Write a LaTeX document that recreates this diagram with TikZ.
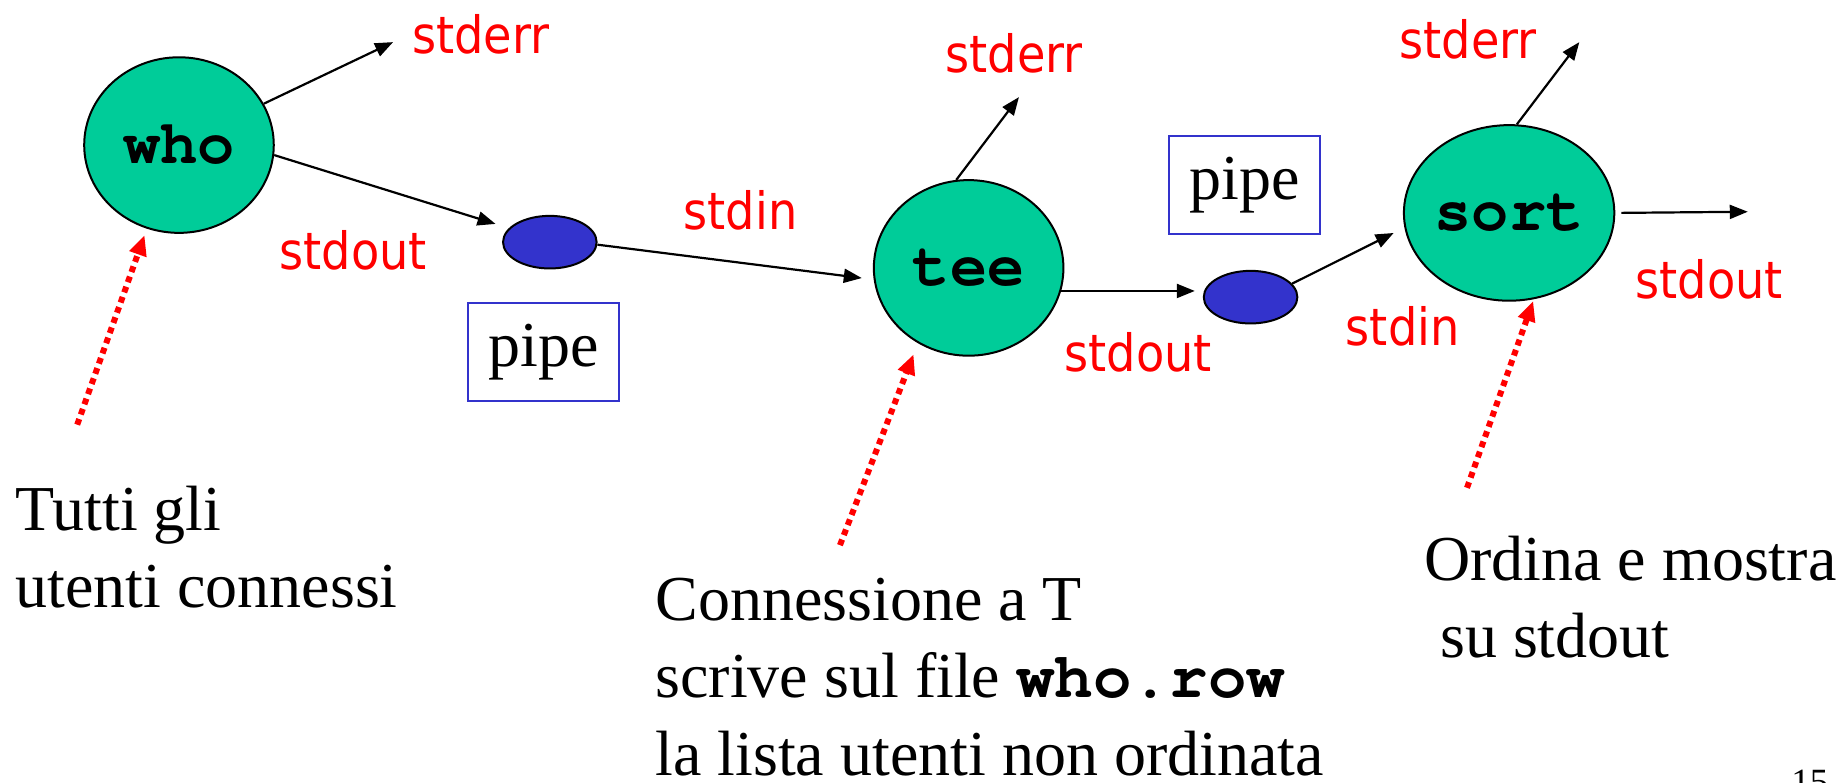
\documentclass[tikz,border=0pt]{standalone}
\usepackage{fontspec}
\setmainfont{Liberation Serif}
\setmonofont{texgyrecursor}[Extension=.otf, UprightFont=*-regular, BoldFont=*-bold]
\newfontfamily\labelfont{DejaVu Sans Condensed}
\usetikzlibrary{shapes.geometric,arrows.meta,positioning}
\definecolor{procgreen}{RGB}{0,204,153}
\definecolor{pipeblue}{RGB}{51,51,204}
\tikzset{process node/.style={ellipse, draw=black, line width=1pt,
    fill=procgreen, inner sep=0pt, minimum width=94.8pt, minimum height=87.8pt,
    font=\fontsize{31}{31}\ttfamily\bfseries}}
\tikzset{pipe node/.style={ellipse, draw=black, line width=1pt, fill=pipeblue,
    minimum width=46.8pt, minimum height=26.3pt}}
\tikzset{pipe box/.style={rectangle, draw=pipeblue, line width=1pt,
    minimum width=75.5pt, minimum height=49.1pt, inner sep=0pt,
    font=\fontsize{32}{38.6}\selectfont}}
\tikzset{stream label/.style={text=red, inner sep=0pt,
    font=\fontsize{25.7}{28}\labelfont}}
\tikzset{note text/.style={align=left, inner sep=0pt, anchor=north west,
    font=\fontsize{32}{38.6}\selectfont}}
\tikzset{regular edge/.style={draw=black, line width=1.1pt,
    -{Triangle[length=9pt, width=7pt]}}}
\tikzset{note edge/.style={draw=red, line width=3pt, dash pattern=on 3pt off 2.4pt,
    -{Triangle[length=10pt, width=8.5pt]}}}

\begin{document}
\begin{tikzpicture}
      [x=0.585pt, y=-0.585pt]
      \useasboundingbox (0,0) rectangle (1572,669);
      \node [process node] (who)  at ( 153, 124) {who};
      \node [process node] (tee)  at ( 828, 229) {tee};
      \node [process node] (sort) at (1290, 182) {sort};
      \node [pipe node]    (pipe1) at ( 470, 207) {};
      \node [pipe node]    (pipe2) at (1069, 254) {};
      \node [pipe box]     (box1)  at ( 465, 301) {pipe};
      \node [pipe box]     (box2)  at (1064, 158) {pipe};
      \node [stream label] (err1l) at ( 411,  29) {stderr};
      \node [stream label] (out1l) at ( 302, 214) {stdout};
      \node [stream label] (in1l)  at ( 633, 180) {stdin};
      \node [stream label] (err2l) at ( 867,  46) {stderr};
      \node [stream label] (out2l) at ( 973, 301) {stdout};
      \node [stream label] (in2l)  at (1199, 279) {stdin};
      \node [stream label] (err3l) at (1255,  34) {stderr};
      \node [stream label] (out3l) at (1461, 239) {stdout};
      \node [note text] (note1t) at (  13, 415) {Tutti gli\\utenti connessi};
      \node [note text] (note2t) at ( 560, 494) {Connessione a T\\scrive sul file {\ttfamily\bfseries who.row}\\la lista utenti non ordinata};
      \node [note text] (note3t) at (1217, 458) {Ordina e mostra\\\ su stdout};
      \node [inner sep=0pt, anchor=north, font=\fontsize{18.5}{18.5}\selectfont] (page) at (1547, 658) {15};

      \coordinate (err1)  at ( 336,  36);
      \coordinate (err2)  at ( 871,  83);
      \coordinate (err3)  at (1350,  36);
      \coordinate (out3)  at (1494, 181);
      \coordinate (note1) at (  66, 363);
      \coordinate (note2) at ( 718, 466);
      \coordinate (note3) at (1254, 417);

      \draw [regular edge] (who.26)   to (err1);
      \draw [regular edge, shorten >=7pt] (who.-6) to (pipe1.161);
      \draw [regular edge, shorten >=6pt] (pipe1.-3) to (tee.187);
      \draw [regular edge] (tee.98)   to (err2);
      \draw [regular edge, shorten >=4pt] (tee.-14) to (tee.-14 -| pipe2.west);
      \draw [regular edge, shorten >=6pt] (pipe2.18) to (sort.188);
      \draw [regular edge] (sort.85)  to (err3);
      \draw [regular edge, shorten <=3pt] (sort.east) to (out3);
      \draw [note edge, shorten >=3.5pt] (note1) to (who.249);
      \draw [note edge, shorten >=6pt] (note2) to (tee.236);
      \draw [note edge, shorten >=1pt] (note3) to (sort.286);
    \end{tikzpicture}
\end{document}
